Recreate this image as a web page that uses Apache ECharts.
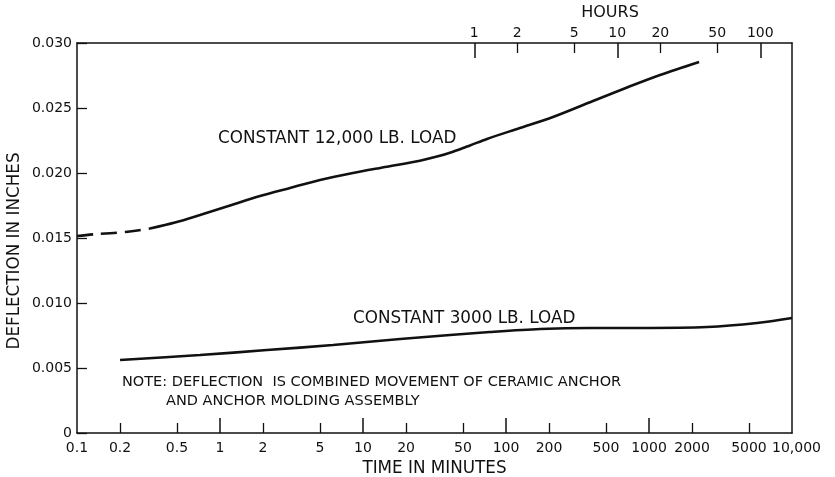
<!DOCTYPE html>
<html>
<head>
<meta charset="utf-8">
<script src="https://cdn.jsdelivr.net/npm/echarts@6/dist/echarts.min.js"></script>
<style>
  html, body { margin: 0; padding: 0; background: #fff; }
  #chart { width: 835px; height: 477px; }
</style>
</head>
<body>
<div id="chart"></div>
<script>
// Time axis (minutes, log scale)
const minuteLabels = [0.1, 0.2, 0.5, 1, 2, 5, 10, 20, 50, 100, 200, 500, 1000, 2000, 5000, 10000];
const minuteMinorTicks = [0.2, 0.5, 2, 5, 20, 50, 200, 500, 2000, 5000];
const minuteMajorTicks = [1, 10, 100, 1000];

// Secondary time axis (hours) across the top
const hourLabels = [1, 2, 5, 10, 20, 50, 100];
const hourMinorTicks = [2, 5, 20, 50];
const hourMajorTicks = [1, 10, 100];

// Deflection axis (inches)
const deflectionMin = 0;
const deflectionMax = 0.030;
const deflectionStep = 0.005;

// 12,000 lb load: early portion is extrapolated (dashed), rest measured
const load12kExtrapolated = [
  [0.1, 0.01515], [0.134, 0.01529], [0.217, 0.01546], [0.324, 0.01573]
];
const load12kMeasured = [
  [0.324, 0.01573], [0.484, 0.01619], [0.725, 0.01677], [1.175, 0.01750],
  [1.905, 0.01823], [3.09, 0.01885], [5.0, 0.01946], [8.5, 0.02000],
  [14.7, 0.02048], [25.0, 0.02095], [32.9, 0.02126], [42.6, 0.02164],
  [56.0, 0.02212], [73.6, 0.02262], [125, 0.02346], [213, 0.02431],
  [406, 0.02554], [702, 0.02658], [1194, 0.02754], [2240, 0.02854]
];

// 3000 lb load
const load3k = [
  [0.2, 0.00562], [0.725, 0.0060], [2.13, 0.00638], [6.17, 0.00677],
  [18.2, 0.00723], [40.6, 0.00754], [77, 0.00777], [173, 0.0080],
  [387, 0.00808], [865, 0.00808], [2547, 0.00815], [5690, 0.00846],
  [10000, 0.00885]
];

const INK = '#111';
const FONT = 'DejaVu Sans';
const TICK_FS = 14;
const NAME_FS = 16.8;
const NOTE_FS = 14.5;

const fmtNum = v => String(Number(Number(v).toPrecision(6)));
// the last minute label runs past the frame, so nudge it right
const fmtMinutes = v => {
  const n = Number(Number(v).toPrecision(6));
  return n === 10000 ? '{last|10,000}' : String(n);
};

const chart = echarts.init(document.getElementById('chart'), null, { renderer: 'canvas' });

const baseLog = {
  type: 'log',
  logBase: 10,
  splitLine: { show: false },
  minorTick: { show: false },
  minorSplitLine: { show: false }
};

const lineSeries = (data, dashed) => ({
  type: 'line',
  xAxisIndex: 0,
  yAxisIndex: 0,
  data: data,
  smooth: 0.3,
  showSymbol: false,
  silent: true,
  lineStyle: { color: INK, width: 2.6, type: dashed ? [16, 8] : 'solid', cap: 'butt' }
});

const textItem = (text, x, y, size, align, rotation) => ({
  type: 'text',
  x: x, y: y,
  rotation: rotation || 0,
  silent: true,
  style: {
    text: text, fill: INK,
    font: `${size}px "${FONT}"`,
    align: align || 'left',
    verticalAlign: 'middle'
  }
});

chart.setOption({
  animation: false,
  backgroundColor: '#fff',
  grid: { left: 77, right: 43, top: 43, bottom: 44, outerBoundsMode: 'none' },
  xAxis: [
    // bottom: minutes with labels and short ticks
    Object.assign({}, baseLog, {
      position: 'bottom',
      min: 0.1, max: 10000,
      name: 'TIME IN MINUTES',
      nameLocation: 'middle',
      nameGap: 24,
      nameTextStyle: { color: INK, fontFamily: FONT, fontSize: NAME_FS },
      axisLine: { show: true, lineStyle: { color: INK, width: 1.5 } },
      axisTick: { show: true, inside: true, length: 10, customValues: minuteMinorTicks, lineStyle: { color: INK, width: 1.3 } },
      axisLabel: {
        show: true, customValues: minuteLabels, margin: 8, color: INK,
        fontFamily: FONT, fontSize: TICK_FS, formatter: fmtMinutes,
        rich: { last: { color: INK, fontFamily: FONT, fontSize: TICK_FS, padding: [0, 0, 0, 9] } }
      }
    }),
    // bottom: long ticks at each decade
    Object.assign({}, baseLog, {
      position: 'bottom',
      min: 0.1, max: 10000,
      axisLine: { show: false },
      axisTick: { show: true, inside: true, length: 15, customValues: minuteMajorTicks, lineStyle: { color: INK, width: 1.5 } },
      axisLabel: { show: false }
    }),
    // top: hours with labels and short ticks
    Object.assign({}, baseLog, {
      position: 'top',
      min: 0.1 / 60, max: 10000 / 60,
      axisLine: { show: true, lineStyle: { color: INK, width: 1.5 } },
      axisTick: { show: true, inside: true, length: 10, customValues: hourMinorTicks, lineStyle: { color: INK, width: 1.3 } },
      axisLabel: { show: true, customValues: hourLabels, margin: 3, color: INK, fontFamily: FONT, fontSize: TICK_FS, formatter: fmtNum }
    }),
    // top: long ticks at each decade of hours
    Object.assign({}, baseLog, {
      position: 'top',
      min: 0.1 / 60, max: 10000 / 60,
      axisLine: { show: false },
      axisTick: { show: true, inside: true, length: 15, customValues: hourMajorTicks, lineStyle: { color: INK, width: 1.5 } },
      axisLabel: { show: false }
    })
  ],
  yAxis: [
    {
      type: 'value',
      position: 'left',
      min: deflectionMin, max: deflectionMax, interval: deflectionStep,
      splitLine: { show: false },
      axisLine: { show: true, lineStyle: { color: INK, width: 1.5 } },
      axisTick: { show: true, inside: true, length: 10, lineStyle: { color: INK, width: 1.3 } },
      axisLabel: {
        margin: 5, color: INK, fontFamily: FONT, fontSize: TICK_FS,
        formatter: v => (v === 0 ? '0' : v.toFixed(3))
      }
    },
    {
      type: 'value',
      position: 'right',
      min: deflectionMin, max: deflectionMax,
      splitLine: { show: false },
      axisLine: { show: true, lineStyle: { color: INK, width: 1.5 } },
      axisTick: { show: false },
      axisLabel: { show: false }
    }
  ],
  graphic: [
    textItem('DEFLECTION IN INCHES', 15, 251, NAME_FS, 'center', Math.PI / 2),
    textItem('HOURS', 610, 13, 16, 'center'),
    textItem('CONSTANT 12,000 LB. LOAD', 218, 139, NAME_FS),
    textItem('CONSTANT 3000 LB. LOAD', 353, 319, NAME_FS),
    textItem('NOTE: DEFLECTION  IS COMBINED MOVEMENT OF CERAMIC ANCHOR', 122, 382, NOTE_FS),
    textItem('AND ANCHOR MOLDING ASSEMBLY', 166, 401, NOTE_FS)
  ],
  series: [
    lineSeries(load12kExtrapolated, true),
    lineSeries(load12kMeasured, false),
    lineSeries(load3k, false)
  ]
});
</script>
</body>
</html>
